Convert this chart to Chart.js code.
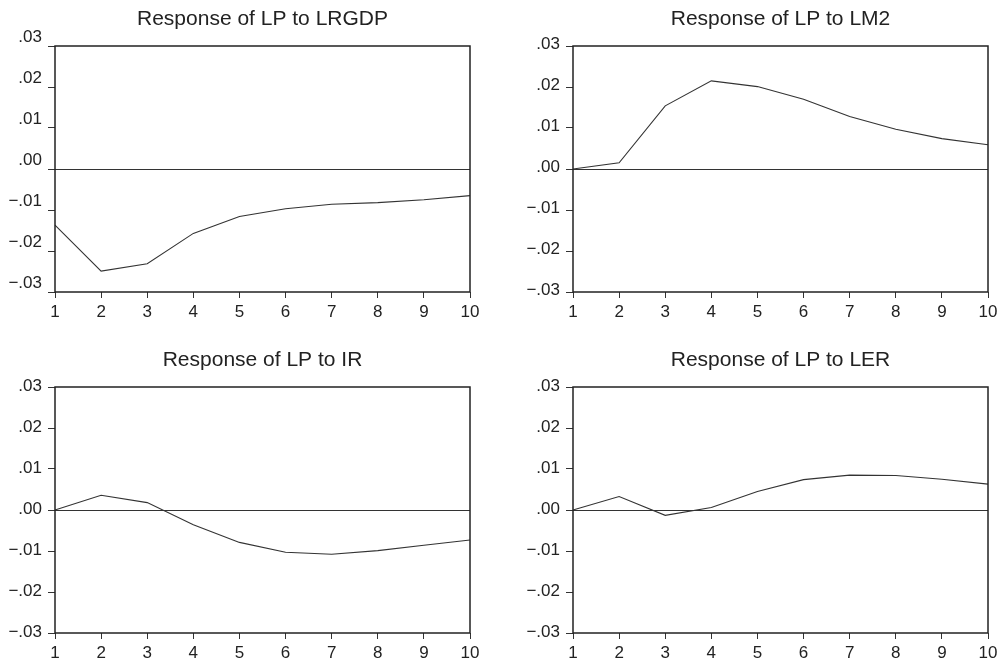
<!DOCTYPE html>
<html>
<head>
<meta charset="utf-8">
<script src="https://cdn.jsdelivr.net/npm/chart.js@4/dist/chart.umd.min.js"></script>
<style>
  html, body { margin: 0; padding: 0; background: #fff; overflow: hidden; }
  .panel { position: absolute; }
</style>
</head>
<body>
<div class="panel" style="left:0;top:0"><canvas id="c1" width="500" height="331"></canvas></div>
<div class="panel" style="left:518px;top:0"><canvas id="c2" width="487" height="331"></canvas></div>
<div class="panel" style="left:0;top:341px"><canvas id="c3" width="500" height="322"></canvas></div>
<div class="panel" style="left:518px;top:341px"><canvas id="c4" width="487" height="322"></canvas></div>
<script>
// periods after the shock
const periods = ['1', '2', '3', '4', '5', '6', '7', '8', '9', '10'];

// impulse responses of LP
const lrgdp = [-0.0137, -0.0249, -0.0231, -0.0157, -0.0116, -0.0097, -0.0086, -0.0082, -0.0075, -0.0065];
const lm2 = [0, 0.0015, 0.0154, 0.0215, 0.0201, 0.0170, 0.0128, 0.0097, 0.0074, 0.0059];
const ir = [0, 0.0036, 0.0018, -0.0036, -0.0079, -0.0103, -0.0108, -0.0099, -0.0086, -0.0073];
const ler = [0, 0.0033, -0.0013, 0.0006, 0.0045, 0.0074, 0.0085, 0.0084, 0.0075, 0.0063];

const titles = ['Response of LP to LRGDP', 'Response of LP to LM2', 'Response of LP to IR', 'Response of LP to LER'];

const yMin = -0.03, yMax = 0.03, yStep = 0.01;

Chart.defaults.font.family = '"Liberation Sans", Arial, sans-serif';
Chart.defaults.color = '#222';

function fmtTick(v) {
    if (Math.abs(v) < 1e-9) return '.00';
    let s = Math.abs(v).toFixed(2).replace(/^0/, '');
    return v < 0 ? '\u2212' + s : s;
}

// frame, zero line and title
const framePlugin = {
    id: 'frame',
    afterDatasetsDraw(chart, args, opts) {
        const ctx = chart.ctx;
        const a = chart.chartArea;
        const y0 = chart.scales.y.getPixelForValue(0);
        ctx.save();
        ctx.strokeStyle = '#333';
        ctx.lineWidth = 1;
        ctx.beginPath();
        ctx.moveTo(a.left, Math.round(y0) + 0.5);
        ctx.lineTo(a.right, Math.round(y0) + 0.5);
        ctx.stroke();
        ctx.lineWidth = 1.5;
        ctx.strokeStyle = '#222';
        ctx.strokeRect(a.left, a.top, a.right - a.left, a.bottom - a.top);
        ctx.fillStyle = '#222';
        ctx.font = '21px "Liberation Sans", Arial, sans-serif';
        ctx.textAlign = 'center';
        ctx.textBaseline = 'alphabetic';
        ctx.fillText(opts.text, (a.left + a.right) / 2, a.top - 21);
        ctx.restore();
    }
};

function makeChart(id, title, values, padRight, xHeight, labelShift) {
    new Chart(document.getElementById(id), {
        type: 'line',
        data: {
            labels: periods,
            datasets: [{
                data: values,
                borderColor: '#333',
                borderWidth: 1.1,
                pointRadius: 0,
                tension: 0,
                fill: false
            }]
        },
        options: {
            responsive: false,
            animation: false,
            layout: { padding: { left: 0, right: padRight, top: 46, bottom: 0 } },
            plugins: {
                legend: { display: false },
                tooltip: { enabled: false },
                frame: { text: title }
            },
            scales: {
                x: {
                    type: 'category',
                    offset: false,
                    border: { display: false },
                    grid: { drawOnChartArea: false, offset: false, tickLength: 6, color: '#333' },
                    ticks: { font: { size: 17 }, padding: 4, maxRotation: 0, autoSkip: false, color: '#222' },
                    afterFit: (s) => { s.height = xHeight; }
                },
                y: {
                    min: yMin,
                    max: yMax,
                    border: { display: false },
                    grid: { drawOnChartArea: false, tickLength: 7, color: '#333' },
                    ticks: {
                        stepSize: yStep,
                        font: { size: 17 },
                        padding: 6,
                        color: '#222',
                        labelOffset: labelShift,
                        callback: (v) => fmtTick(v)
                    },
                    afterFit: (s) => { s.width = 55; }
                }
            }
        },
        plugins: [framePlugin]
    });
}

makeChart('c1', titles[0], lrgdp, 30, 39, -9);
makeChart('c2', titles[1], lm2, 17, 39, -2);
makeChart('c3', titles[2], ir, 30, 30, -1);
makeChart('c4', titles[3], ler, 17, 30, -1);
</script>
</body>
</html>
